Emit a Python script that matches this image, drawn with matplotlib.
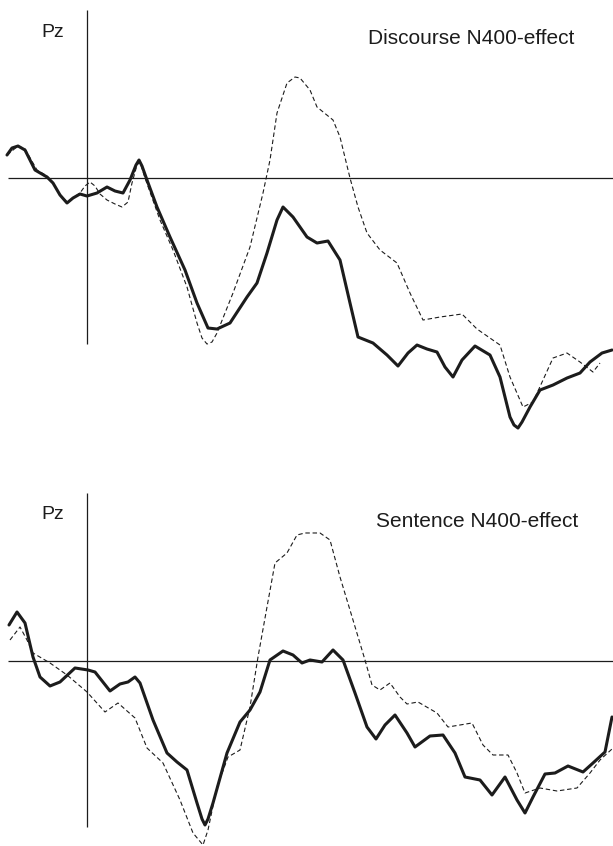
import matplotlib
matplotlib.use("Agg")
import matplotlib.pyplot as plt

plt.rcParams['font.family'] = ['Liberation Sans', 'DejaVu Sans']

# Pz grand averages, time in ms, amplitude in arbitrary uV units
# Discourse N400-effect
disc_t_solid = [-160, -150, -138, -124, -104, -80, -68, -54, -40, -28, -14, 0, 20, 40, 56, 72, 86, 98, 104,
                110, 120, 140, 166, 196, 220, 242, 260, 286, 320, 340, 360, 380, 392, 412, 440, 460,
                482, 506, 526, 542, 572, 600, 622, 642, 660, 680, 700, 716, 732, 750, 776, 806, 826,
                846, 854, 862, 870, 886, 906, 932, 960, 986, 1006, 1030, 1050]
disc_v_solid = [1.15, 1.5, 1.6, 1.4, 0.4, 0.05, -0.25, -0.85, -1.25, -1.0, -0.8, -0.9, -0.75, -0.45,
                -0.65, -0.75, -0.1, 0.65, 0.9, 0.6, -0.1, -1.45, -2.95, -4.6, -6.25, -7.5, -7.55,
                -7.25, -5.95, -5.25, -3.75, -2.1, -1.45, -1.95, -2.95, -3.25, -3.15, -4.1, -6.25,
                -7.95, -8.25, -8.85, -9.4, -8.75, -8.35, -8.55, -8.7, -9.45, -9.95, -9.1, -8.4, -8.85,
                -9.95, -11.95, -12.35, -12.5, -12.2, -11.45, -10.6, -10.35, -10.0, -9.75, -9.2,
                -8.75, -8.6]
disc_t_dash = [-160, -138, -124, -100, -80, -68, -54, -40, -28, -14, -4, 6, 16, 26, 40, 56, 70, 82, 90,
               100, 106, 116, 146, 172, 200, 220, 230, 240, 250, 260, 292, 326, 352, 366, 380, 400,
               416, 426, 446, 460, 492, 506, 526, 542, 560, 586, 620, 646, 672, 706, 750, 780, 826,
               846, 872, 892, 932, 960, 986, 1012, 1026]
disc_v_dash = [1.15, 1.6, 1.45, 0.4, 0.1, -0.25, -0.85, -1.2, -1.0, -0.75, -0.4, -0.2, -0.4, -0.8,
               -1.1, -1.3, -1.45, -1.2, -0.25, 0.65, 0.8, 0.0, -2.1, -3.6, -5.45, -7.25, -8.0, -8.3,
               -8.2, -7.75, -5.75, -3.45, -0.75, 0.9, 3.25, 4.75, 5.05, 5.0, 4.4, 3.55, 2.9, 2.05,
               0.0, -1.45, -2.75, -3.6, -4.25, -5.75, -7.1, -6.95, -6.8, -7.55, -8.35, -9.95, -11.45,
               -11.2, -9.0, -8.75, -9.2, -9.7, -9.25]

# Sentence N400-effect
sent_t_solid = [-156, -140, -124, -108, -94, -74, -54, -24, 2, 16, 46, 66, 82, 96, 106, 132, 160, 180,
                200, 220, 230, 236, 242, 252, 280, 306, 326, 346, 366, 392, 412, 430, 446, 470, 492,
                512, 536, 560, 578, 596, 616, 640, 656, 686, 712, 736, 756, 786, 810, 836, 860, 876,
                892, 916, 936, 962, 992, 1012, 1036, 1050]
sent_v_solid = [1.8, 2.45, 1.9, 0.2, -0.8, -1.25, -1.05, -0.35, -0.45, -0.55, -1.5, -1.15, -1.05, -0.8,
                -1.1, -2.95, -4.6, -5.05, -5.45, -7.1, -7.9, -8.2, -7.9, -7.1, -4.6, -3.05, -2.45,
                -1.55, 0.05, 0.5, 0.3, -0.1, 0.05, -0.05, 0.55, 0.05, -1.6, -3.3, -3.9, -3.2, -2.7,
                -3.6, -4.3, -3.75, -3.7, -4.6, -5.8, -5.95, -6.7, -5.8, -6.95, -7.6, -6.8, -5.65,
                -5.6, -5.25, -5.55, -5.1, -4.55, -2.8]
sent_t_dash = [-154, -134, -120, -108, -74, -40, 0, 36, 62, 96, 120, 152, 186, 212, 232, 242, 260, 282,
               306, 326, 342, 360, 376, 400, 420, 436, 466, 486, 506, 532, 556, 570, 586, 606, 626,
               640, 662, 700, 722, 746, 770, 792, 812, 842, 860, 876, 906, 940, 980, 1006, 1026, 1050]
sent_v_dash = [1.05, 1.7, 1.05, 0.4, -0.1, -0.7, -1.55, -2.55, -2.1, -2.85, -4.35, -5.1, -6.95, -8.6,
               -9.2, -8.45, -6.3, -4.8, -4.45, -2.3, 0.2, 2.7, 4.9, 5.4, 6.3, 6.4, 6.4, 6.05, 4.2,
               2.05, 0.05, -1.2, -1.45, -1.1, -1.8, -2.15, -2.05, -2.6, -3.3, -3.2, -3.1, -4.2, -4.7,
               -4.7, -5.6, -6.6, -6.35, -6.5, -6.35, -5.6, -4.95, -4.4]

ink = '#1c1c1c'

fig = plt.figure(figsize=(6.13, 8.46), dpi=100)
ax_top = fig.add_axes([0, 0.4917, 1, 0.5083])
ax_bot = fig.add_axes([0, 0.0, 1, 0.4291])

panels = [
    (ax_top, disc_t_solid, disc_v_solid, disc_t_dash, disc_v_dash, 'Discourse N400-effect', (-12.6, 8.9), 7.3, 7.0, 562),
    (ax_bot, sent_t_solid, sent_v_solid, sent_t_dash, sent_v_dash, 'Sentence N400-effect', (-9.25, 8.9), 7.3, 6.95, 578),
]

for ax, ts, vs, td, vd, title, ylim, pz_y, title_y, title_x in panels:
    ax.set_xlim(-174, 1052)
    ax.set_ylim(*ylim)
    ax.axis('off')
    ax.hlines(0, -158, 1052, color=ink, lw=0.9)
    ax.vlines(0, -8.3, 8.4, color=ink, lw=0.9)
    ax.plot(td, vd, color=ink, lw=0.8, ls=(0, (4, 2.5)))
    ax.plot(ts, vs, color=ink, lw=2.2, solid_capstyle='round', solid_joinstyle='round')
    ax.text(-92, pz_y, 'Pz', fontsize=14, color=ink, va='center', ha='left')
    ax.text(title_x, title_y, title, fontsize=15, color=ink, va='center', ha='left')

fig.savefig('out.png', dpi=100)
